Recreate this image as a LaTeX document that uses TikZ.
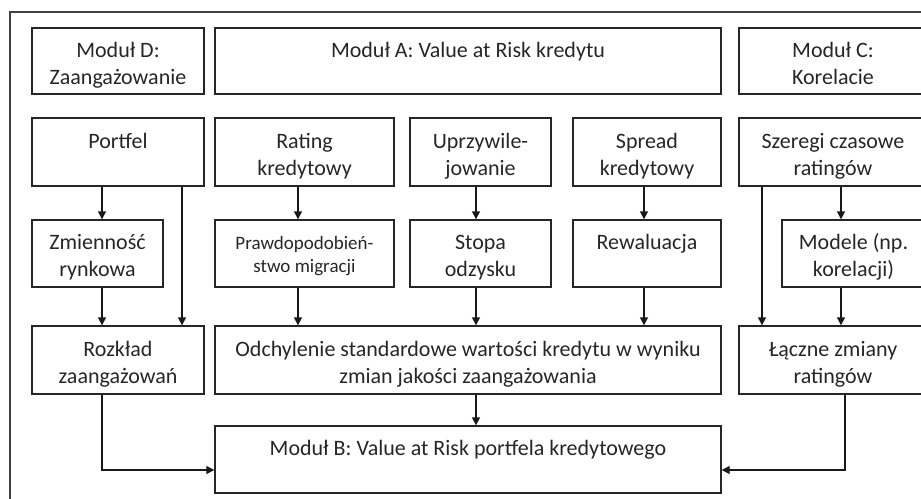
\documentclass[tikz,border=0pt]{standalone}
\usepackage{fontspec}
\setmainfont{Carlito}
\usetikzlibrary{arrows.meta}
\begin{document}
\begin{tikzpicture}[x=1pt,y=-1pt,
  every node/.style={font=\fontsize{22}{27}\selectfont,text=black!85},
  box/.style={draw=black!85,line width=1.4pt,inner sep=0pt,align=center,text height=48pt,text depth=2pt},
  smalltext/.style={font=\fontsize{19}{23}\selectfont,text height=39pt},
  conn/.style={-{Triangle[length=8pt,width=8pt]},line width=1.4pt,black!90},
  frame/.style={draw=black!75,line width=2pt}]
  \useasboundingbox (0,0) rectangle (921,498);
  \clip (0,0) rectangle (921,498);
  \draw[frame] (10,12) rectangle (940,520);
  % row 1: modules
  \node[box,minimum width=172,minimum height=66] (modD) at (118,61) {Moduł D:\\Zaangażowanie};
  \node[box,minimum width=506,minimum height=66] (modA) at (468,61) {Moduł A: Value at Risk kredytu\\\phantom{M}};
  \node[box,minimum width=188,minimum height=66] (modC) at (833,61) {Moduł C:\\Korelacie};
  % row 2
  \node[box,minimum width=172,minimum height=68] (portfel) at (118,152) {Portfel\\\phantom{M}};
  \node[box,minimum width=179,minimum height=68] (rating) at (304.5,152) {Rating\\kredytowy};
  \node[box,minimum width=141,minimum height=68] (uprz) at (480.5,152) {Uprzywile-\\jowanie};
  \node[box,minimum width=148,minimum height=68] (spread) at (647,152) {Spread\\kredytowy};
  \node[box,minimum width=188,minimum height=68] (szeregi) at (833,152) {Szeregi czasowe\\ratingów};
  % row 3
  \node[box,minimum width=131,minimum height=67] (zmien) at (97.5,253.5) {Zmienność\\rynkowa};
  \node[box,smalltext,minimum width=179,minimum height=67] (prawd) at (304.5,253.5) {Prawdopodobień-\\stwo migracji};
  \node[box,minimum width=141,minimum height=67] (stopa) at (480.5,253.5) {Stopa\\odzysku};
  \node[box,minimum width=148,minimum height=67] (rewal) at (647,253.5) {Rewaluacja\\\phantom{M}};
  \node[box,minimum width=143,minimum height=67] (modele) at (853.5,253.5) {Modele (np.\\korelacji)};
  % row 4
  \node[box,minimum width=172,minimum height=68] (rozklad) at (118,360) {Rozkład\\zaangażowań};
  \node[box,minimum width=506,minimum height=68] (odch) at (468,360) {Odchylenie standardowe wartości kredytu w wyniku\\zmian jakości zaangażowania};
  \node[box,minimum width=188,minimum height=68] (laczne) at (833,360) {Łączne zmiany\\ratingów};
  % row 5
  \node[box,minimum width=506,minimum height=67] (modB) at (468,459.5) {Moduł B: Value at Risk portfela kredytowego\\\phantom{M}};
  % connectors
  \draw[conn] ([xshift=-16]portfel.south) -- ([xshift=4.5]zmien.north);
  \draw[conn] ([xshift=64]portfel.south) -- ([xshift=64]rozklad.north);
  \draw[conn] ([xshift=4.5]zmien.south) -- ([xshift=-16]rozklad.north);
  \draw[conn] ([xshift=-6.5]rating.south) -- ([xshift=-6.5]prawd.north);
  \draw[conn] ([xshift=-6.5]prawd.south) -- ([xshift=-170]odch.north);
  \draw[conn] ([xshift=-4.5]uprz.south) -- ([xshift=-4.5]stopa.north);
  \draw[conn] ([xshift=-4.5]stopa.south) -- ([xshift=8]odch.north);
  \draw[conn] ([xshift=-3]spread.south) -- ([xshift=-3]rewal.north);
  \draw[conn] ([xshift=-3]rewal.south) -- ([xshift=176]odch.north);
  \draw[conn] ([xshift=8]szeregi.south) -- ([xshift=-12.5]modele.north);
  \draw[conn] ([xshift=-71]szeregi.south) -- ([xshift=-71]laczne.north);
  \draw[conn] ([xshift=-12.5]modele.south) -- ([xshift=8]laczne.north);
  \draw[conn] ([xshift=8]odch.south) -- ([xshift=8]modB.north);
  \draw[conn] ([xshift=-16]rozklad.south) |- ([yshift=-10.5]modB.west);
  \draw[conn] ([xshift=12]laczne.south) |- ([yshift=-10.5]modB.east);
\end{tikzpicture}
\end{document}
